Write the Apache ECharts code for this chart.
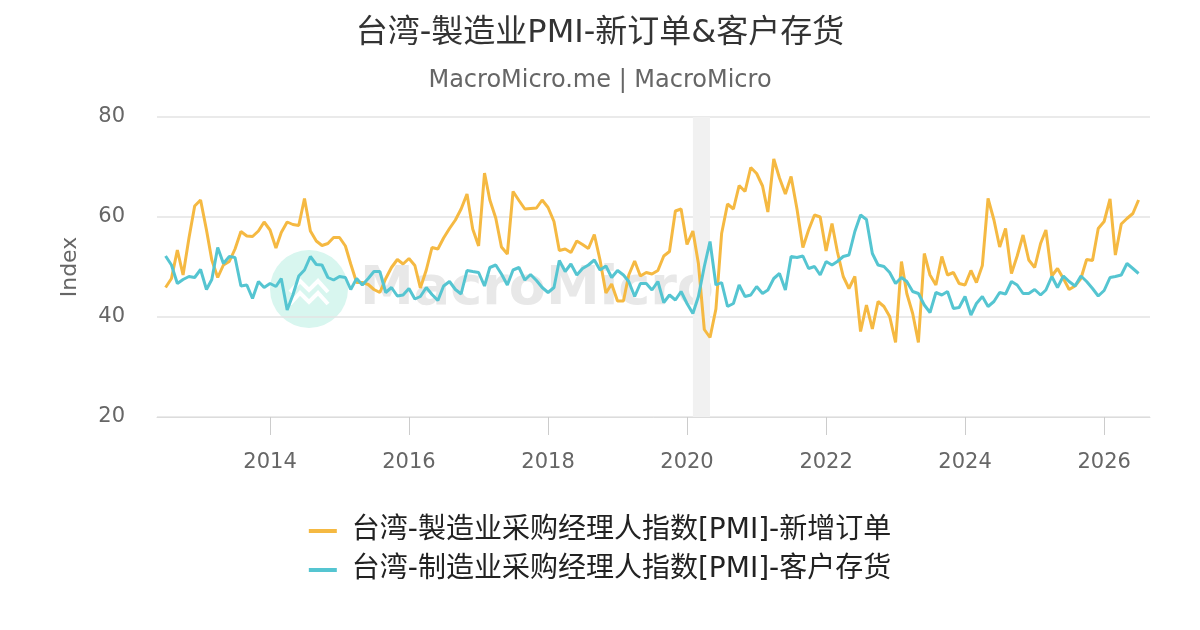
<!DOCTYPE html>
<html>
<head>
<meta charset="utf-8">
<script src="https://cdn.jsdelivr.net/npm/echarts@6/dist/echarts.min.js"></script>
<style>
  html, body { margin: 0; padding: 0; background: #fff; }
  #chart { width: 1200px; height: 630px; }
</style>
</head>
<body>
<div id="chart"></div>
<script>
// monthly series, first point = 2012-07
var startYear = 2012;
var startMonth = 7;

// 台湾-製造业采购经理人指数[PMI]-新增订单
var newOrders = [
  45.9, 47.7, 53.4, 48.4, 55.8, 62.2, 63.4, 57.4, 51.4, 47.9, 50.4, 51.1,
  53.6, 57.1, 56.2, 56.1, 57.2, 59.0, 57.4, 53.8, 56.9, 59.0, 58.5, 58.3,
  63.7, 57.2, 55.2, 54.3, 54.7, 55.9, 55.9, 54.2, 50.6, 46.9, 46.9, 46.5,
  45.5, 44.9, 47.7, 49.9, 51.5, 50.6, 51.7, 50.3, 45.8, 49.4, 53.9, 53.6,
  55.8, 57.7, 59.4, 61.6, 64.6, 57.6, 54.2, 68.8, 63.4, 59.8, 54.0, 52.6,
  65.1, 63.3, 61.6, 61.7, 61.8, 63.4, 61.9, 59.1, 53.3, 53.6, 52.9, 55.2,
  54.5, 53.7, 56.5, 51.4, 44.8, 46.6, 43.2, 43.2, 48.4, 51.2, 48.2, 48.9,
  48.6, 49.3, 52.2, 53.1, 61.2, 61.6, 54.5, 57.2, 50.7, 37.5, 35.9, 41.6,
  56.7, 62.6, 61.6, 66.3, 65.1, 69.9, 68.7, 66.2, 61.0, 71.6, 67.8, 64.6,
  68.1, 61.6, 53.9, 57.4, 60.4, 60.0, 53.2, 58.7, 53.1, 48.1, 45.7, 48.1,
  37.1, 42.4, 37.6, 43.1, 42.1, 40.1, 34.9, 51.1, 44.7, 40.7, 34.9, 52.7,
  48.4, 46.4, 52.1, 48.4, 48.9, 46.7, 46.4, 49.3, 46.9, 50.3, 63.7, 59.4,
  54.0, 57.7, 48.7, 52.2, 56.4, 51.4, 49.9, 54.7, 57.4, 48.2, 49.7, 47.7,
  45.5, 46.2, 47.7, 51.5, 51.3, 57.7, 59.1, 63.6, 52.4, 58.6, 59.7, 60.7,
  63.4
];

// 台湾-制造业采购经理人指数[PMI]-客户存货
var custInventory = [
  52.2, 50.4, 46.7, 47.5, 48.1, 47.9, 49.5, 45.5, 47.5, 53.9, 50.7, 52.1,
  51.9, 46.2, 46.4, 43.7, 47.1, 45.9, 46.7, 46.1, 47.7, 41.4, 44.4, 48.2,
  49.4, 52.1, 50.5, 50.4, 47.9, 47.4, 48.1, 47.9, 45.5, 47.7, 46.4, 47.7,
  49.1, 49.1, 44.9, 45.9, 44.2, 44.4, 45.7, 43.6, 44.1, 45.9, 44.5, 43.3,
  46.2, 47.1, 45.5, 44.6, 49.3, 49.1, 48.9, 46.2, 49.9, 50.4, 48.6, 46.4,
  49.4, 49.9, 47.4, 48.5, 47.3, 45.9, 44.9, 45.9, 51.3, 49.1, 50.6, 48.4,
  49.7, 50.4, 51.4, 49.4, 50.2, 47.9, 49.3, 48.4, 47.1, 44.1, 46.7, 46.7,
  45.4, 47.1, 42.9, 44.4, 43.4, 45.1, 42.7, 40.7, 44.1, 50.1, 55.1, 46.4,
  46.9, 42.1, 42.7, 46.4, 44.1, 44.4, 46.1, 44.7, 45.4, 47.7, 48.7, 45.4,
  52.1, 51.9, 52.2, 49.7, 50.1, 48.4, 51.1, 50.4, 51.1, 52.1, 52.4, 57.1,
  60.4, 59.5, 52.7, 50.4, 50.1, 48.9, 46.7, 47.9, 47.1, 45.1, 44.7, 42.4,
  40.9, 44.9, 44.4, 45.1, 41.7, 41.9, 44.1, 40.4, 42.7, 44.1, 42.1, 43.1,
  44.9, 44.6, 47.1, 46.4, 44.7, 44.7, 45.5, 44.4, 45.4, 48.1, 45.9, 48.2,
  47.1, 46.2, 48.2, 47.1, 45.7, 44.2, 45.3, 47.9, 48.1, 48.4, 50.7, 49.7,
  48.7
];

var seriesNames = [
  '台湾-製造业采购经理人指数[PMI]-新增订单',
  '台湾-制造业采购经理人指数[PMI]-客户存货'
];
var yTicks = [20, 40, 60, 80];
var recession = ['2020-02-01', '2020-05-01'];
var xRange = ['2012-05-17', '2026-08-30'];

function monthDate(i) {
  var m = startMonth - 1 + i;
  var y = startYear + Math.floor(m / 12);
  var mm = (m % 12) + 1;
  return y + '-' + (mm < 10 ? '0' + mm : mm) + '-01';
}

function pairs(values) {
  return values.map(function (v, i) { return [monthDate(i), v]; });
}

var font = 'DejaVu Sans, Noto Sans CJK SC, sans-serif';
var chart = echarts.init(document.getElementById('chart'));

var option = {
  backgroundColor: '#fff',
  animation: false,
  title: {
    text: '台湾-製造业PMI-新订单&客户存货',
    subtext: 'MacroMicro.me | MacroMicro',
    left: 'center',
    top: 13,
    itemGap: 19,
    textStyle: { fontFamily: font, fontSize: 32, fontWeight: 'normal', color: '#333' },
    subtextStyle: { fontFamily: font, fontSize: 24, color: '#666' }
  },
  legend: {
    orient: 'vertical',
    left: 'center',
    top: 512,
    itemWidth: 28,
    itemHeight: 4,
    itemGap: 11,
    icon: 'rect',
    textStyle: { fontFamily: font, fontSize: 28, color: '#222', padding: [0, 0, 0, 10] },
    data: seriesNames
  },
  grid: { left: 157, right: 50, top: 117, bottom: 213 },
  graphic: [
    {
      type: 'circle', z: 0, silent: true,
      shape: { cx: 309, cy: 289, r: 39 },
      style: { fill: '#d8f6ef' }
    },
    {
      type: 'polyline', z: 0, silent: true,
      shape: { points: [[290, 292], [300, 281], [309, 290], [318, 281], [328, 292]] },
      style: { stroke: '#fff', lineWidth: 4, fill: null }
    },
    {
      type: 'polyline', z: 0, silent: true,
      shape: { points: [[290, 304], [300, 293], [309, 302], [318, 293], [328, 304]] },
      style: { stroke: '#fff', lineWidth: 4, fill: null }
    },
    {
      type: 'text', z: 0, silent: true,
      x: 360, y: 290,
      style: {
        text: 'MacroMicro', fill: '#e8e8e8', font: 'bold 54px DejaVu Sans',
        verticalAlign: 'middle'
      }
    }
  ],
  xAxis: {
    type: 'time',
    min: xRange[0],
    max: xRange[1],
    minInterval: 2 * 365 * 24 * 3600 * 1000,
    maxInterval: 2 * 366 * 24 * 3600 * 1000,
    axisLine: { lineStyle: { color: '#dcdcdc' } },
    axisTick: { show: true, length: 18, lineStyle: { color: '#cccccc' } },
    axisLabel: {
      fontFamily: font, fontSize: 21, color: '#666', margin: 35,
      formatter: '{yyyy}'
    },
    splitLine: { show: false }
  },
  yAxis: {
    type: 'value',
    min: yTicks[0],
    max: yTicks[yTicks.length - 1],
    interval: 20,
    name: 'Index',
    nameLocation: 'middle',
    nameGap: 76,
    nameTextStyle: { fontFamily: font, fontSize: 22, color: '#666' },
    axisLine: { show: false },
    axisTick: { show: false },
    axisLabel: { fontFamily: font, fontSize: 21, color: '#666', margin: 32 },
    splitLine: { lineStyle: { color: '#e3e3e3', width: 1.5 } }
  },
  series: [
    {
      name: seriesNames[0],
      type: 'line',
      showSymbol: false,
      symbol: 'none',
      color: '#f5b942',
      lineStyle: { width: 3, color: '#f5b942' },
      data: pairs(newOrders),
      markArea: {
        silent: true,
        itemStyle: { color: '#f1f1f1' },
        data: [[{ xAxis: recession[0] }, { xAxis: recession[1] }]]
      },
      z: 3
    },
    {
      name: seriesNames[1],
      type: 'line',
      showSymbol: false,
      symbol: 'none',
      color: '#55c5d1',
      lineStyle: { width: 3, color: '#55c5d1' },
      data: pairs(custInventory),
      z: 4
    }
  ]
};

chart.setOption(option);
</script>
</body>
</html>
